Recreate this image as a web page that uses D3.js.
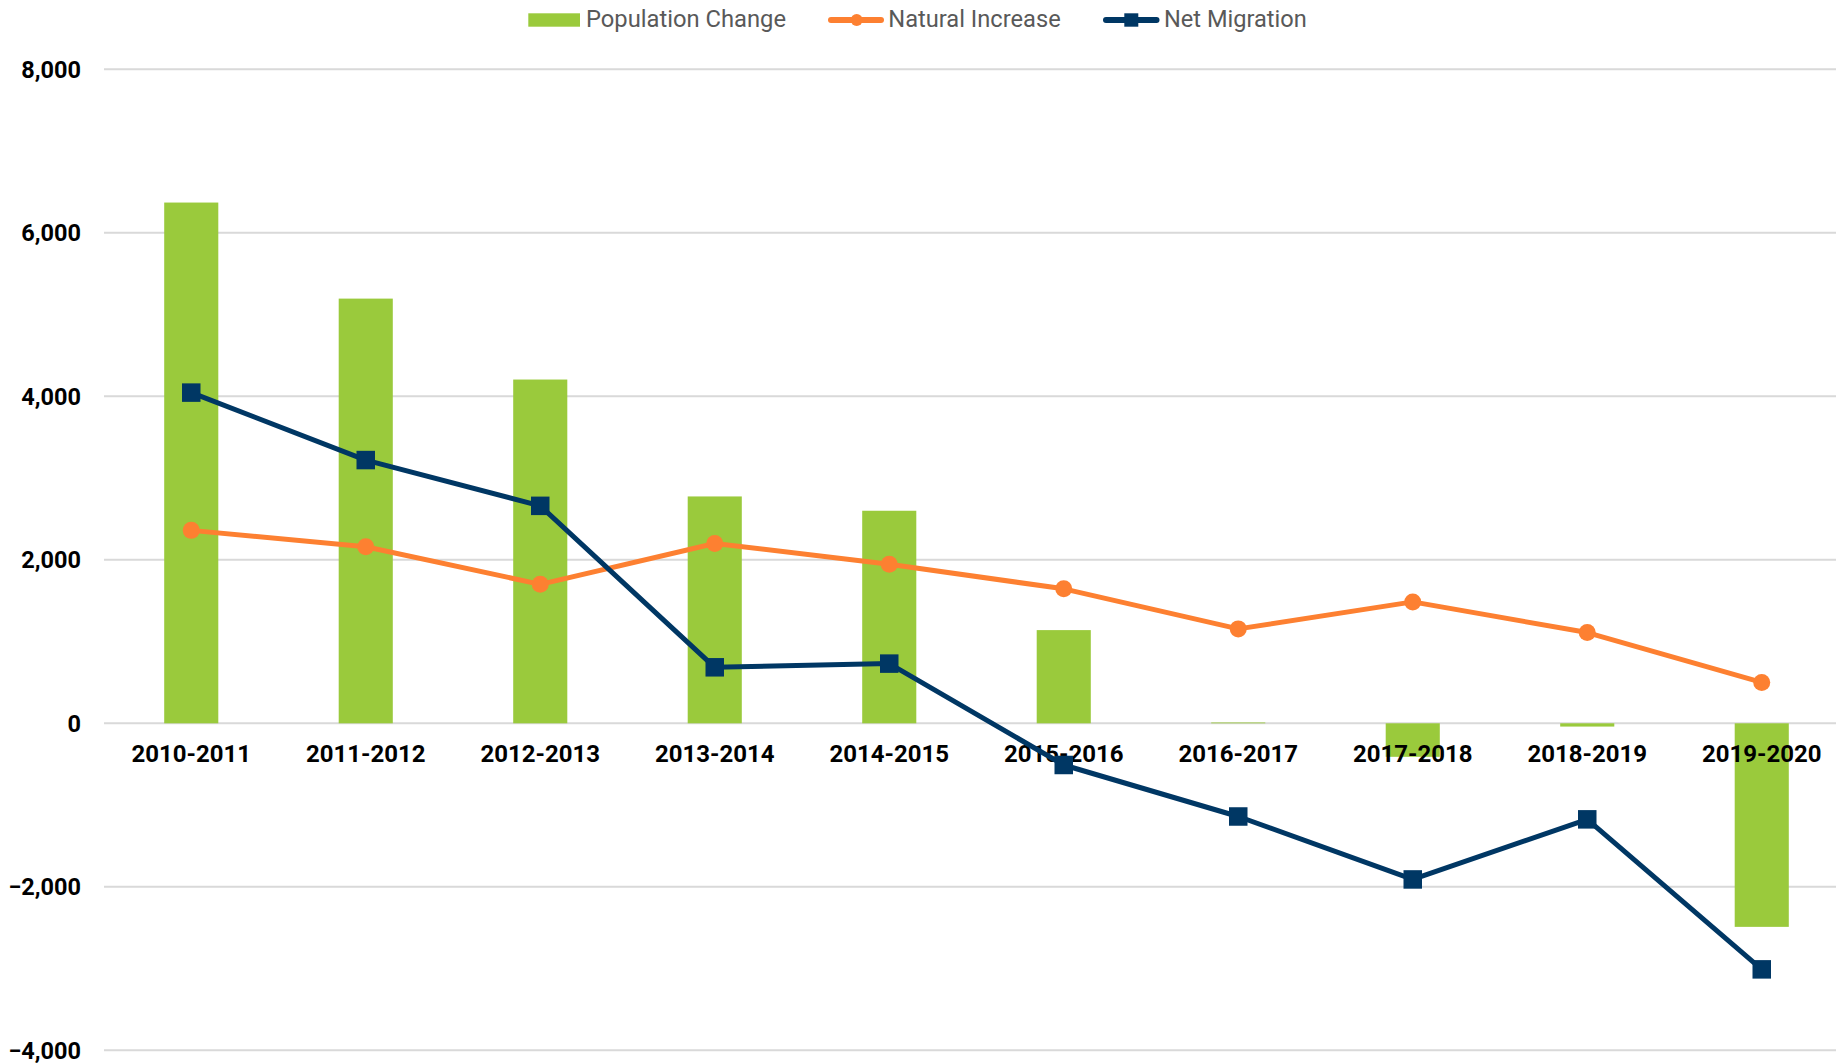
<!DOCTYPE html>
<html><head><meta charset="utf-8">
<script src="https://cdn.jsdelivr.net/npm/d3@7"></script>
<style>body{margin:0;background:#fff}svg{display:block;font-family:Roboto,sans-serif}</style>
</head><body><svg id="c" width="1836" height="1064"></svg>
<script>
const categories = ["2010-2011","2011-2012","2012-2013","2013-2014","2014-2015","2015-2016","2016-2017","2017-2018","2018-2019","2019-2020"];
const populationChange = [6370, 5195, 4205, 2775, 2600, 1140, 10, -410, -40, -2490];
const naturalIncrease = [2360, 2160, 1700, 2200, 1945, 1645, 1155, 1485, 1110, 500];
const netMigration = [4045, 3220, 2660, 685, 730, -510, -1140, -1910, -1175, -3010];
const yTicks = [-4000, -2000, 0, 2000, 4000, 6000, 8000];
const legendLabels = ["Population Change", "Natural Increase", "Net Migration"];

const svg = d3.select("#c");
const L = 104, R = 1849;
const x = d3.scaleBand().domain(categories).range([L, R]).paddingInner(0.69).paddingOuter(0.345);
const y = d3.scaleLinear().domain([-4000, 8000]).range([1050.3, 69.3]);
const fmt = d3.format(",");

// gridlines
svg.append("g").selectAll("line").data(yTicks).join("line")
  .attr("x1", L).attr("x2", 1836).attr("y1", d => y(d)).attr("y2", d => y(d))
  .attr("stroke", "#d9d9d9").attr("stroke-width", 2);

// y labels
svg.append("g").selectAll("text").data(yTicks).join("text")
  .attr("x", 81).attr("y", d => y(d)).attr("dy", "0.36em")
  .attr("text-anchor", "end").attr("font-size", 23.5).attr("font-weight", 700).attr("fill", "#000")
  .text(d => fmt(d));

// bars
svg.append("g").selectAll("rect").data(categories).join("rect")
  .attr("x", d => x(d)).attr("width", x.bandwidth())
  .attr("y", (d, i) => y(Math.max(0, populationChange[i])))
  .attr("height", (d, i) => Math.abs(y(populationChange[i]) - y(0)))
  .attr("fill", "#9aca3c");

// x labels
svg.append("g").selectAll("text").data(categories).join("text")
  .attr("x", d => x(d) + x.bandwidth() / 2).attr("y", 761.5)
  .attr("text-anchor", "middle").attr("font-size", 24).attr("font-weight", 700).attr("fill", "#000")
  .text(d => d);

const cx = d => x(d) + x.bandwidth() / 2;
const line = d3.line().x(d => cx(d[0])).y(d => y(d[1]));

// natural increase
const ni = categories.map((c, i) => [c, naturalIncrease[i]]);
svg.append("path").datum(ni).attr("d", line).attr("fill", "none")
  .attr("stroke", "#fd8031").attr("stroke-width", 5).attr("stroke-linejoin", "round");
svg.append("g").selectAll("circle").data(ni).join("circle")
  .attr("cx", d => cx(d[0])).attr("cy", d => y(d[1])).attr("r", 8.5).attr("fill", "#fd8031");

// net migration
const nm = categories.map((c, i) => [c, netMigration[i]]);
svg.append("path").datum(nm).attr("d", line).attr("fill", "none")
  .attr("stroke", "#003764").attr("stroke-width", 5).attr("stroke-linejoin", "round");
const s = 18.5;
svg.append("g").selectAll("rect").data(nm).join("rect")
  .attr("x", d => cx(d[0]) - s / 2).attr("y", d => y(d[1]) - s / 2)
  .attr("width", s).attr("height", s).attr("fill", "#003764");

// legend
const lg = svg.append("g");
lg.append("rect").attr("x", 528.3).attr("y", 13.3).attr("width", 51.7).attr("height", 13.4).attr("fill", "#9aca3c");
lg.append("line").attr("x1", 831).attr("x2", 881).attr("y1", 20).attr("y2", 20).attr("stroke", "#fd8031").attr("stroke-width", 6).attr("stroke-linecap", "round");
lg.append("circle").attr("cx", 856.7).attr("cy", 20).attr("r", 6).attr("fill", "#fd8031");
lg.append("line").attr("x1", 1106).attr("x2", 1156.5).attr("y1", 20).attr("y2", 20).attr("stroke", "#003764").attr("stroke-width", 6).attr("stroke-linecap", "round");
lg.append("rect").attr("x", 1124.3).attr("y", 13.3).attr("width", 14).attr("height", 13.4).attr("fill", "#003764");
const lx = [586, 888.3, 1164], lw = [200, 172.4, 142.7];
lg.selectAll("text").data(legendLabels).join("text")
  .attr("x", (d, i) => lx[i]).attr("y", 27.3)
  .attr("font-size", 24).attr("fill", "#595959")
  .attr("textLength", (d, i) => lw[i]).attr("lengthAdjust", "spacingAndGlyphs")
  .text(d => d);
</script></body></html>
